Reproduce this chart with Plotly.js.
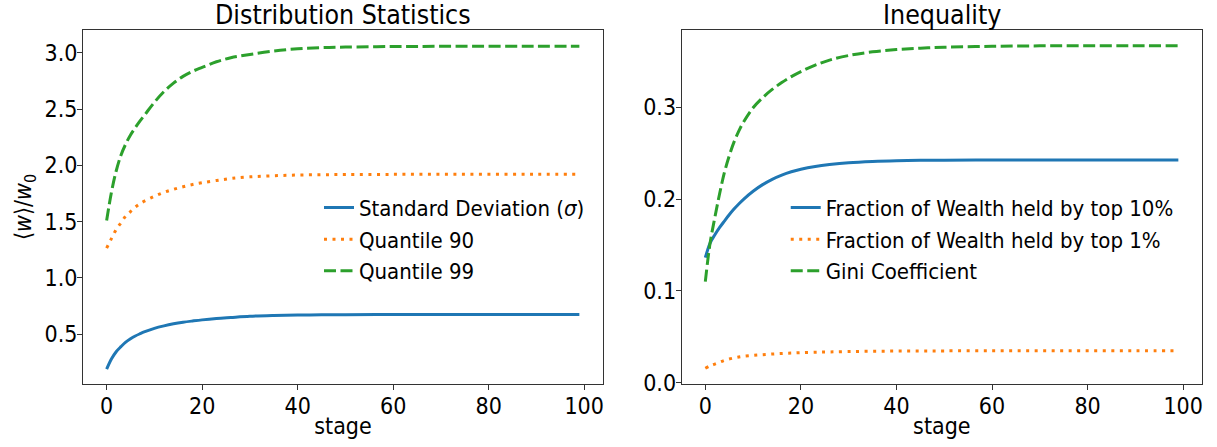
<!DOCTYPE html>
<html>
<head>
<meta charset="utf-8">
<script src="https://cdn.plot.ly/plotly-3.0.1.min.js"></script>
<style>
  html, body { margin: 0; padding: 0; background: #fff; }
  #chart { width: 1217px; height: 447px; }
</style>
</head>
<body>
<div id="chart"></div>
<script>
// Simulation stages at which the statistics are recorded
const stages = [0, 1, 2, 3, 4, 5, 6, 7, 8, 10, 12, 14, 16, 18, 20, 23, 26, 30, 35, 40, 45, 50, 60, 70, 80, 90, 99];

// Distribution statistics, in units of w0
const stdDev = [0.19, 0.28, 0.345, 0.39, 0.43, 0.46, 0.485, 0.505, 0.523, 0.553, 0.575, 0.593, 0.607, 0.618, 0.628, 0.64, 0.649, 0.66, 0.667, 0.671, 0.673, 0.674, 0.675, 0.676, 0.676, 0.676, 0.676];
const quantile90 = [1.265, 1.35, 1.43, 1.49, 1.55, 1.59, 1.63, 1.66, 1.685, 1.725, 1.76, 1.787, 1.81, 1.83, 1.846, 1.866, 1.883, 1.898, 1.908, 1.914, 1.917, 1.919, 1.92, 1.92, 1.92, 1.92, 1.92];
const quantile99 = [1.51, 1.76, 1.95, 2.09, 2.19, 2.27, 2.335, 2.395, 2.45, 2.56, 2.655, 2.73, 2.79, 2.835, 2.87, 2.92, 2.955, 2.985, 3.015, 3.035, 3.045, 3.05, 3.055, 3.057, 3.057, 3.057, 3.057];

// Inequality measures
const top10Share = [0.136, 0.152, 0.161, 0.169, 0.176, 0.1828, 0.189, 0.1946, 0.1997, 0.2085, 0.2157, 0.2215, 0.2261, 0.2297, 0.2325, 0.2355, 0.2376, 0.2396, 0.241, 0.2418, 0.2422, 0.2424, 0.2425, 0.2425, 0.2425, 0.2425, 0.2425];
const top1Share = [0.0155, 0.018, 0.020, 0.022, 0.024, 0.0255, 0.0267, 0.0277, 0.0285, 0.0295, 0.0303, 0.031, 0.0316, 0.032, 0.0325, 0.033, 0.0333, 0.0337, 0.034, 0.0342, 0.0343, 0.0344, 0.0345, 0.0345, 0.0345, 0.0345, 0.0345];
const gini = [0.11, 0.152, 0.18, 0.206, 0.229, 0.247, 0.262, 0.274, 0.284, 0.2995, 0.3105, 0.3195, 0.327, 0.3335, 0.339, 0.346, 0.3515, 0.3565, 0.3605, 0.363, 0.3645, 0.3655, 0.3665, 0.367, 0.367, 0.367, 0.367];

// Labels
const leftNames = ['Standard Deviation (<i>σ</i>)', 'Quantile 90', 'Quantile 99'];
const rightNames = ['Fraction of Wealth held by top 10%', 'Fraction of Wealth held by top 1%', 'Gini Coefficient'];
const xTicks = [0, 20, 40, 60, 80, 100];

const FONT = 'DejaVu Sans Condensed, DejaVu Sans, sans-serif';
const BLUE = '#1f77b4', ORANGE = '#ff7f0e', GREEN = '#2ca02c';
const DOTS = '3px,5.5px';
const DASHES = '12px,4.5px';

function series(y, name, color, dash, xa, ya, legend) {
  return {
    x: stages, y: y, name: name, type: 'scatter', mode: 'lines',
    xaxis: xa, yaxis: ya, legend: legend,
    line: { color: color, width: 3, dash: dash, shape: 'spline', smoothing: 1 }
  };
}

const traces = [
  series(stdDev, leftNames[0], BLUE, 'solid', 'x', 'y', 'legend'),
  series(quantile90, leftNames[1], ORANGE, DOTS, 'x', 'y', 'legend'),
  series(quantile99, leftNames[2], GREEN, DASHES, 'x', 'y', 'legend'),
  series(top10Share, rightNames[0], BLUE, 'solid', 'x2', 'y2', 'legend2'),
  series(top1Share, rightNames[1], ORANGE, DOTS, 'x2', 'y2', 'legend2'),
  series(gini, rightNames[2], GREEN, DASHES, 'x2', 'y2', 'legend2')
];

const axisCommon = {
  showgrid: false, zeroline: false,
  showline: true, mirror: true, linecolor: '#333', linewidth: 1,
  ticks: 'outside', ticklen: 5, tickwidth: 1, tickcolor: '#333',
  tickfont: { size: 23, color: '#000', family: FONT }
};

function xAxis(domain, anchor) {
  return Object.assign({}, axisCommon, {
    domain: domain, anchor: anchor, range: [-4.95, 103.95],
    tickmode: 'array', tickvals: xTicks, ticktext: xTicks.map(String),
    ticklabelstandoff: -4,
    title: { text: 'stage', font: { size: 23, color: '#000', family: FONT }, standoff: 0 }
  });
}

const legendCommon = {
  bgcolor: 'rgba(0,0,0,0)', borderwidth: 0,
  font: { size: 22, color: '#000', family: FONT },
  xanchor: 'left', yanchor: 'top', tracegroupgap: 0
};

const layout = {
  width: 1217, height: 447,
  margin: { l: 83, r: 15, t: 30, b: 63 },
  paper_bgcolor: '#fff', plot_bgcolor: '#fff',
  font: { family: FONT, color: '#000' },
  showlegend: true,
  xaxis: xAxis([0, 0.4647], 'y'),
  xaxis2: xAxis([0.535, 1], 'y2'),
  yaxis: Object.assign({}, axisCommon, {
    domain: [0, 1], anchor: 'x', range: [0.0586, 3.202],
    tick0: 0, dtick: 0.5, tickformat: '.1f', ticklabelstandoff: -5,
    title: { text: '⟨<i>w</i>⟩/<i>w</i><sub>0</sub>', font: { size: 23, color: '#000', family: FONT }, standoff: 6 }
  }),
  yaxis2: Object.assign({}, axisCommon, {
    domain: [0, 1], anchor: 'x2', range: [-0.0017, 0.3843],
    tick0: 0, dtick: 0.1, tickformat: '.1f', ticklabelstandoff: -5
  }),
  legend: Object.assign({}, legendCommon, { x: 0.2109, y: 0.557 }),
  legend2: Object.assign({}, legendCommon, { x: 0.628, y: 0.557 }),
  annotations: [
    { text: 'Distribution Statistics', xref: 'paper', yref: 'paper', x: 0.4647 / 2, y: 1.0425,
      xanchor: 'center', yanchor: 'middle', showarrow: false, font: { size: 26.5, color: '#000', family: FONT } },
    { text: 'Inequality', xref: 'paper', yref: 'paper', x: (0.535 + 1) / 2, y: 1.0425,
      xanchor: 'center', yanchor: 'middle', showarrow: false, font: { size: 26.5, color: '#000', family: FONT } }
  ]
};

Plotly.newPlot('chart', traces, layout, { staticPlot: true, displayModeBar: false });
</script>
</body>
</html>
